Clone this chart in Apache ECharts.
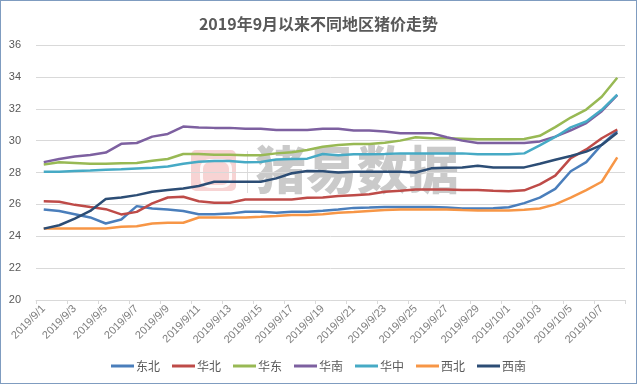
<!DOCTYPE html>
<html>
<head>
<meta charset="utf-8">
<script src="https://cdn.jsdelivr.net/npm/echarts@6/dist/echarts.min.js"></script>
<style>
html,body{margin:0;padding:0;background:#fff;}
#wrap{width:637px;height:384px;border:1px solid #7f9cc0;box-sizing:border-box;position:absolute;left:0;top:0;}
#c{width:635px;height:382px;}
</style>
</head>
<body>
<div id="wrap"><div id="c"></div></div>
<script>
const categories = [
  '2019/9/1','2019/9/2','2019/9/3','2019/9/4','2019/9/5','2019/9/6','2019/9/7','2019/9/8','2019/9/9','2019/9/10',
  '2019/9/11','2019/9/12','2019/9/13','2019/9/14','2019/9/15','2019/9/16','2019/9/17','2019/9/18','2019/9/19','2019/9/20',
  '2019/9/21','2019/9/22','2019/9/23','2019/9/24','2019/9/25','2019/9/26','2019/9/27','2019/9/28','2019/9/29','2019/9/30',
  '2019/10/1','2019/10/2','2019/10/3','2019/10/4','2019/10/5','2019/10/6','2019/10/7','2019/10/8'
];
const dongbei = [25.68,25.58,25.38,25.18,24.8,25.05,25.89,25.74,25.68,25.58,25.38,25.38,25.42,25.53,25.53,25.48,25.53,25.53,25.6,25.68,25.78,25.8,25.84,25.84,25.84,25.84,25.8,25.74,25.74,25.76,25.82,26.08,26.42,26.97,28.08,28.65,29.75,30.6];
const huabei = [26.2,26.17,25.97,25.83,25.7,25.37,25.53,26.06,26.43,26.48,26.2,26.1,26.1,26.31,26.31,26.31,26.31,26.41,26.43,26.52,26.58,26.64,26.79,26.85,26.94,26.94,26.94,26.9,26.9,26.85,26.83,26.88,27.25,27.8,28.9,29.45,30.15,30.7];
const huadong = [28.5,28.64,28.6,28.55,28.55,28.58,28.6,28.74,28.85,29.16,29.16,29.12,29.12,29.08,29.08,29.2,29.27,29.41,29.62,29.73,29.79,29.79,29.87,30.0,30.21,30.15,30.15,30.12,30.09,30.09,30.09,30.1,30.3,30.85,31.45,31.95,32.75,33.95];
const huanan = [28.65,28.85,29.0,29.1,29.25,29.8,29.85,30.25,30.42,30.88,30.82,30.8,30.8,30.75,30.75,30.66,30.66,30.66,30.75,30.75,30.63,30.63,30.57,30.47,30.47,30.47,30.21,30.0,29.85,29.85,29.85,29.85,29.95,30.25,30.65,31.1,31.85,32.85];
const huazhong = [28.05,28.05,28.1,28.12,28.18,28.2,28.25,28.3,28.38,28.55,28.68,28.72,28.72,28.64,28.66,28.81,28.85,28.87,29.16,29.08,29.14,29.14,29.16,29.2,29.2,29.2,29.2,29.2,29.14,29.14,29.14,29.2,29.7,30.23,30.83,31.2,31.93,32.88];
const xibei = [24.48,24.48,24.48,24.48,24.48,24.59,24.63,24.8,24.85,24.85,25.18,25.18,25.18,25.18,25.22,25.27,25.33,25.33,25.38,25.47,25.52,25.59,25.64,25.68,25.68,25.68,25.68,25.64,25.62,25.62,25.62,25.66,25.74,26.0,26.42,26.9,27.42,28.95];
const xinan = [24.48,24.69,25.11,25.59,26.33,26.43,26.58,26.79,26.9,27.0,27.15,27.42,27.42,27.42,27.42,27.63,27.95,28.09,28.08,28.0,28.05,28.05,28.05,28.05,28.0,28.26,28.3,28.32,28.43,28.32,28.32,28.32,28.55,28.8,29.04,29.31,29.73,30.5];
const seriesNames = ['东北','华北','华东','华南','华中','西北','西南'];
const seriesData = [dongbei, huabei, huadong, huanan, huazhong, xibei, xinan];
const colors = ['#4a7ebb','#be4b48','#98b954','#7d60a0','#46aac5','#f79646','#2c4d75'];

const chart = echarts.init(document.getElementById('c'));
chart.setOption({
  animation: false,
  color: colors,
  title: {
    text: '2019年9月以来不同地区猪价走势',
    left: 'center', top: 10,
    textStyle: {fontSize: 16, fontWeight: 'bold', color: '#595959', fontFamily: 'Noto Sans CJK SC'}
  },
  legend: {
    bottom: 6, left: 'center',
    itemWidth: 23, itemHeight: 3, itemGap: 12,
    icon: 'rect',
    textStyle: {fontSize: 12, color: '#595959', fontFamily: 'Noto Sans CJK SC', padding: [0,0,0,-3]},
    data: seriesNames
  },
  grid: {left: 35, right: 11, top: 44, bottom: 83, containLabel: false},
  xAxis: {
    type: 'category',
    data: categories,
    boundaryGap: true,
    axisLine: {lineStyle: {color: '#d9d9d9'}},
    axisTick: {show: true, interval: 1, length: 4, lineStyle: {color: '#d9d9d9'}},
    axisLabel: {interval: 1, rotate: 45, fontSize: 11, color: '#7f7f7f', margin: 7, fontFamily: 'Liberation Sans'}
  },
  yAxis: {
    type: 'value', min: 20, max: 36, interval: 2,
    axisLine: {show: false}, axisTick: {show: false},
    axisLabel: {fontSize: 11, color: '#595959', margin: 15, fontFamily: 'Liberation Sans'},
    splitLine: {lineStyle: {color: '#d9d9d9'}}
  },
  graphic: [
    {type: 'rect', left: 190, top: 149, z: 0, shape: {width: 45, height: 41, r: 5}, style: {fill: 'rgba(232,130,130,0.35)'}},
    {type: 'rect', left: 198, top: 157, z: 0, shape: {width: 29, height: 26, r: 8}, style: {fill: 'none', stroke: 'rgba(255,255,255,0.9)', lineWidth: 3}},
    {type: 'rect', left: 246, top: 150, z: 0, shape: {width: 1, height: 42}, style: {fill: 'rgba(170,170,170,0.4)'}},
    {type: 'text', left: 254, top: 143, z: 0, style: {text: '猪易数据', fontSize: 51, fontWeight: 900, fill: 'rgba(150,150,150,0.5)', fontFamily: 'Noto Sans CJK SC'}}
  ],
  series: seriesNames.map((n, i) => ({
    name: n, type: 'line', data: seriesData[i],
    symbol: 'none', lineStyle: {width: 2.5, color: colors[i]}, z: 3
  }))
});
</script>
</body>
</html>
